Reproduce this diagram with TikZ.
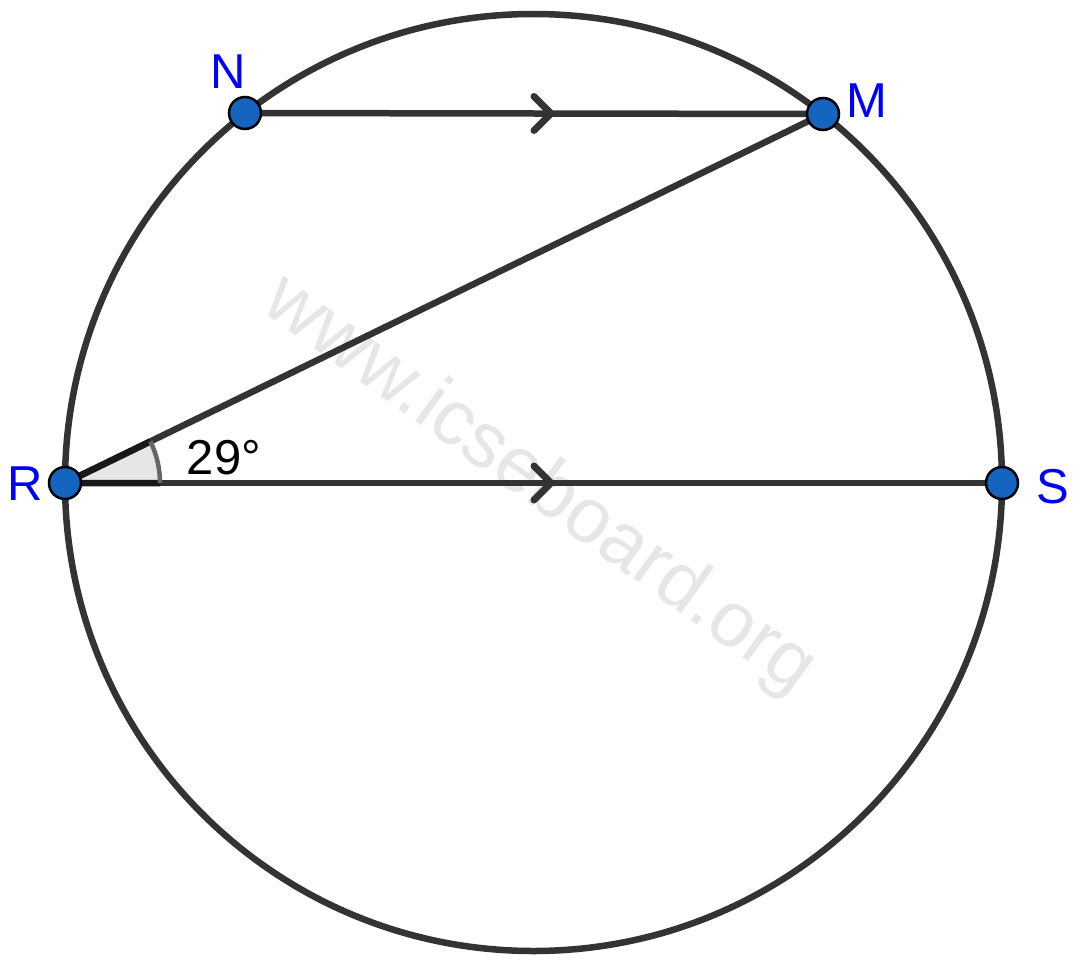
\documentclass[tikz,border=0pt]{standalone}
\usepackage{fontspec}
\setmainfont{Liberation Sans}
\usetikzlibrary{calc}
\definecolor{linec}{HTML}{333333}
\definecolor{ptfill}{HTML}{1565C0}
\definecolor{lblblue}{HTML}{0000FF}
\definecolor{wmark}{HTML}{E6E6E6}
\definecolor{angfill}{HTML}{E6E6E6}
\tikzset{
  geoline/.style={draw=linec, line width=6.5pt},
  chevron/.style={draw=linec, line width=7pt, line cap=round, line join=round},
  ptnode/.style={circle, fill=ptfill, draw=black, line width=2.5pt, minimum size=32pt, inner sep=0pt},
  lbl/.style={text=lblblue, font=\fontsize{49}{49}\selectfont, inner sep=0pt},
}
\begin{document}
\begin{tikzpicture}[x=1pt,y=-1pt]
\useasboundingbox (0,0) rectangle (1082,974);
% watermark
\node[text=wmark, rotate=-35.8, font=\fontsize{78}{78}\selectfont, inner sep=0pt] (wm) at (539,486) {www.icseboard.org};
% circle
\coordinate (O) at (533.5,482.5);
\draw[geoline] (O) circle (468.5);
% points coordinates
\coordinate (pN) at (245,113);
\coordinate (pM) at (823,114);
\coordinate (pR) at (65,483);
\coordinate (pS) at (1002,483);
% angle sector
\fill[angfill] (pR) -- ++(95,0) arc[start angle=0, end angle=-25.95, radius=95] -- cycle;
% chords
\draw[geoline] (pN) -- (pM);
\draw[geoline] (pR) -- (pM);
\draw[geoline] (pR) -- (pS);
% angle sides & arc
\draw[black!90, line width=6.5pt] ($(pR)+(95,0)$) -- (pR) -- ($(pR)+(-25.95:95)$);
\draw[draw=black!60, line width=4.5pt] ($(pR)+(95,0)$) arc[start angle=0, end angle=-25.95, radius=95];
% chevrons
\coordinate (t1) at (551,113.5);
\coordinate (t2) at (551,483);
\draw[chevron] ($(t1)+(-17,-17)$) -- (t1) -- ($(t1)+(-17,17)$);
\draw[chevron] ($(t2)+(-17,-17)$) -- (t2) -- ($(t2)+(-17,17)$);
% points
\node[ptnode] (N) at (pN) {};
\node[ptnode] (M) at (pM) {};
\node[ptnode] (R) at (pR) {};
\node[ptnode] (S) at (pS) {};
% labels
\node[lbl] (lN) at (228,72) {N};
\node[lbl] (lM) at (867,101) {M};
\node[lbl] (lR) at (25,484) {R};
\node[lbl] (lS) at (1053,487) {S};
\node[inner sep=0pt, font=\fontsize{49}{49}\selectfont] (ang) at (224,458) {29°};
\end{tikzpicture}
\end{document}
